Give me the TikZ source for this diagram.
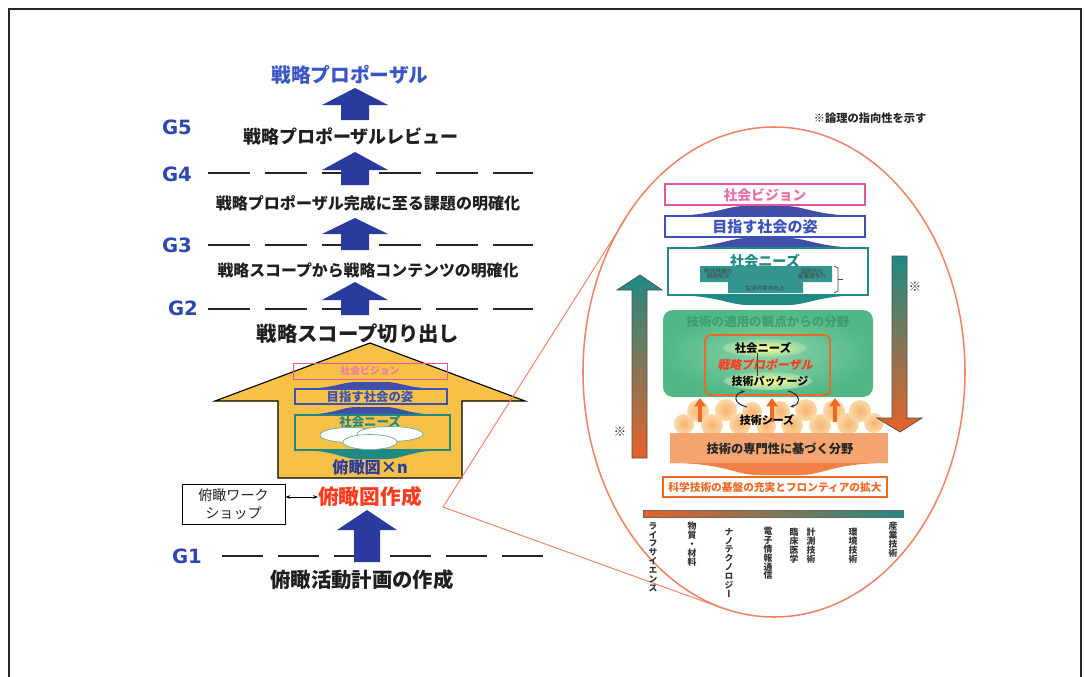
\documentclass[tikz,border=0pt]{standalone}
\usepackage{fontspec}
\setmainfont{Noto Sans CJK JP}
\newfontfamily\gfont{DejaVu Sans}
\newfontfamily\jpslant[FakeSlant=0.2]{Noto Sans CJK JP}
\newfontfamily\jpvert[RawFeature={+vert}]{Noto Sans CJK JP}
\usetikzlibrary{arrows.meta,calc,positioning}

\definecolor{navy}{HTML}{2B3A9E}
\definecolor{gblue}{HTML}{2E46B0}
\definecolor{tblue}{HTML}{3B55C8}
\definecolor{gold}{HTML}{F6C146}
\definecolor{pinkv}{HTML}{E8559A}
\definecolor{boxblue}{HTML}{3A52B8}
\definecolor{tealn}{HTML}{1F8A83}
\definecolor{redt}{HTML}{FF3A1E}
\definecolor{salmon}{HTML}{F08366}
\definecolor{greenf}{HTML}{4FB886}
\definecolor{greenl}{HTML}{8ED3A8}
\definecolor{greent}{HTML}{3F9E6E}
\definecolor{orangef}{HTML}{F4A46E}
\definecolor{orangea}{HTML}{EE6A24}
\definecolor{orangeb}{HTML}{E8622A}
\definecolor{cloudin}{HTML}{F6B46E}
\definecolor{cloudout}{HTML}{FBD9A8}

\newcommand\jsize[1]{\fontsize{#1}{#1}\selectfont}
% flat bell shape: left x, right x, base y, top y, colour
\newcommand\hump[5]{%
  \fill[#5] (#1,#3) .. controls ({#1+0.25*(#2-#1)},#3) and ({#1+0.3*(#2-#1)},#4) .. ({#1+0.4*(#2-#1)},#4)
    -- ({#1+0.6*(#2-#1)},#4) .. controls ({#1+0.7*(#2-#1)},#4) and ({#1+0.75*(#2-#1)},#3) .. (#2,#3) -- cycle;}

\begin{document}
\begin{tikzpicture}[
    x=0.025cm, y=-0.025cm,
    >=Stealth,
    every node/.style={inner sep=0pt},
    stage/.style={font=\bfseries\jsize{#1}, text=black!88},
    glabel/.style={font=\gfont\bfseries\jsize{14}, text=gblue},
    gline/.style={line width=1.8pt, black!85, dash pattern=on 1.05cm off 0.375cm},
    vlabel/.style={font=\jpvert\bfseries\jsize{6.3}, text=black!80, align=center, anchor=north},
]
\useasboundingbox (0,0) rectangle (1085,677);

% frame
\draw[line width=1.5pt, black!85] (9,677) -- (9,9) -- (1081,9) -- (1081,677);

% ---- left: stages G1..G5 ----
\foreach \g/\gx/\gy in {5/177/127, 4/177/174, 3/177/245, 2/183/308, 1/187/556}
    \node[glabel] (g\g) at (\gx,\gy) {G\g};
\foreach \gy in {173,245,309}
    \draw[gline] (208,\gy) -- (533,\gy);
\draw[gline, dash pattern=on 1.025cm off 0.375cm] (222,556) -- (543,556);

% block arrows between stages
\def\ax{355}
\foreach \tip/\hb/\bot in {88/105/120, 152/170/185, 218/234/250, 282/300/315}
    \fill[navy] (\ax-33,\hb) -- (\ax,\tip) -- (\ax+33,\hb) -- (\ax+14,\hb) -- (\ax+14,\bot)
        -- (\ax-14,\bot) -- (\ax-14,\hb) -- cycle;
\fill[navy] (337,530) -- (367,510) -- (397,530) -- (380,530) -- (380,562) -- (354,562) -- (354,530) -- cycle;

\node[stage=14, text=tblue] (prop) at (350,75) {戦略プロポーザル};
\node[stage=12.8] (review) at (351,137) {戦略プロポーザルレビュー};
\node[stage=11.4] (issue) at (368,203) {戦略プロポーザル完成に至る課題の明確化};
\node[stage=11.3] (content) at (368,270) {戦略スコープから戦略コンテンツの明確化};

% big house arrow
\draw[fill=gold, line width=0.8pt] (370,343) -- (525,401) -- (462,401) -- (462,478)
    -- (278,478) -- (278,401) -- (215,401) -- cycle;
\node[stage=14.5] (scope) at (358,334) {戦略スコープ切り出し};

\hump{297}{445}{389}{382}{navy!90}
\hump{297}{445}{415}{407}{navy!90}
\hump{297}{448}{450}{459}{tealn}
\draw[pinkv, line width=0.7pt] (293,363) rectangle (447,379);
\node[font=\bfseries\jsize{7}, text=pinkv!80] (hvis) at (370,371) {社会ビジョン};
\draw[boxblue, line width=0.9pt, fill=gold] (295,389) rectangle (447,404);
\node[font=\bfseries\jsize{8.8}, text=boxblue] (hgoal) at (370,397) {目指す社会の姿};
\draw[tealn, line width=0.9pt, fill=gold] (295,415) rectangle (450,450);
\node[font=\bfseries\jsize{8.8}, text=tealn] (hneed) at (370,422) {社会ニーズ};
\draw[tealn!70, fill=white, line width=0.5pt] (350,435) ellipse [x radius=30, y radius=7.5];
\draw[tealn!70, fill=white, line width=0.5pt] (390,434) ellipse [x radius=33, y radius=7.5];
\draw[tealn!70, fill=white, line width=0.5pt] (370,442) ellipse [x radius=27, y radius=7.5];
\node[stage=11.5, text=navy] (hmap) at (370,467) {俯瞰図×n};

% workshop and map making
\node[draw, line width=0.6pt, minimum width=2.575cm, minimum height=1cm, align=center,
    font=\jsize{10}, text=black!85] (ws) at (233.5,504) {俯瞰ワーク\\[3pt]ショップ};
\node[stage=14.7, text=redt] (make) at (370,497) {俯瞰図作成};
\draw[{Stealth[length=3.5pt]}-{Stealth[length=3.5pt]}, line width=0.6pt] (ws.east|-make) -- (make.west);
\node[stage=14.5] (plan) at (362,580) {俯瞰活動計画の作成};

% zoom lines to the detail view
\coordinate (fz) at (443,507);
\coordinate (tu) at (626,218);
\coordinate (tl) at (722,608);
\draw[salmon, line width=0.7pt] (fz) -- (tu);
\draw[salmon, line width=0.7pt] (fz) -- (tl);
\draw[salmon, line width=1.1pt] (774,372) ellipse [x radius=191, y radius=245];

% ---- right: detail of one map ----
\node[font=\bfseries\jsize{8}, text=black!85] (note) at (870,118) {※論理の指向性を示す};

\hump{665}{865}{216}{206}{navy!90}
\hump{668}{868}{248}{238}{navy!90}
\hump{668}{868}{295}{305}{tealn}
\draw[pinkv, line width=0.9pt, fill=white] (665,184) rectangle (865,205);
\node[font=\bfseries\jsize{9.8}, text=pinkv!85] (rvis) at (765,195) {社会ビジョン};
\draw[boxblue, line width=0.9pt, fill=white] (665,216) rectangle (865,237);
\node[font=\bfseries\jsize{10.7}, text=boxblue] (rgoal) at (765,227) {目指す社会の姿};
\draw[tealn, line width=1pt, fill=white] (668,248) rectangle (868,295);
\node[font=\bfseries\jsize{10}, text=tealn] (rneed) at (765,261) {社会ニーズ};
\fill[tealn!90] (700,266) -- (832,266) -- (832,282) -- (803,282) -- (803,293) -- (728,293)
    -- (728,282) -- (700,282) -- cycle;
\node[font=\jsize{4}, text=black!75, align=center] (n1) at (718,274) {地球規模の\\課題解決};
\node[font=\jsize{4}, text=black!75, align=center] (n2) at (812,274) {国際的な\\産業競争力};
\node[font=\jsize{4}, text=black!75] (n3) at (765,288) {生活の質の向上};
\draw[black!70, line width=0.5pt] (834,266) -- (838,268) -- (838,291) -- (834,293);
\draw[black!70, line width=0.5pt] (838,279) -- (843,279);

% application field box
\shade[rounded corners=2.5mm, inner color=greenl, outer color=greenf] (663,310) rectangle (873,397);
\node[font=\bfseries\jsize{8.9}, text=greent] (apply) at (768,322) {技術の適用の観点からの分野};
\shade[inner color=yellow!45!white, outer color=greenl] (765,348) ellipse [x radius=42, y radius=9];
\shade[inner color=yellow!45!white, outer color=greenl] (768,381) ellipse [x radius=44, y radius=9];
\draw[orangea, line width=1.3pt, rounded corners=1.5mm] (705,335) rectangle (830,395);
\node[font=\bfseries\jsize{8.1}] (sneed) at (763,348) {社会ニーズ};
\node[font=\bfseries\jsize{7.8}] (pack) at (770,381) {技術パッケージ};
\draw[black!80, line width=0.5pt] (757,353) -- (757,376);
\node[font=\jpslant\bfseries\jsize{8.5}, text=redt] (rprop) at (765,365) {戦略プロポーザル};

% seeds cloud
\foreach \x/\y/\r in {684/424/10, 698/411/11, 712/425/11, 726/410/11, 740/424/11, 752/412/10,
    766/426/10, 780/411/10, 792/425/11, 806/410/11, 820/425/11, 834/411/11, 848/424/11,
    860/411/11, 874/423/10}
    \shade[inner color=cloudin, outer color=cloudout] (\x,\y) circle (\r);
\foreach \x in {700,772,835}
    \draw[orangea, line width=2.6pt, -{Triangle[length=6pt,width=8pt]}] (\x,422) -- (\x,398);
\draw[black!85, line width=0.7pt, -{Stealth[length=3pt]}] (747,407) .. controls (733,404) and (733,394) .. (745,391);
\draw[black!85, line width=0.7pt, -{Stealth[length=3pt]}] (788,391) .. controls (801,394) and (801,404) .. (790,407);
\node[font=\bfseries\jsize{7.8}] (seeds) at (767,420) {技術シーズ};

% specialty field box
\hump{670}{888}{463}{475}{orangea!85}
\fill[orangef] (670,433) rectangle (888,463);
\node[font=\bfseries\jsize{8.7}, text=black!85] (spec) at (780,449) {技術の専門性に基づく分野};
\draw[orangea, line width=0.9pt, fill=white] (663,477) rectangle (887,497);
\node[font=\bfseries\jsize{7.6}, text=orangea] (base) at (775,487) {科学技術の基盤の充実とフロンティアの拡大};

% field bar and field names
\draw[black!60, line width=0.4pt, left color=orangeb, right color=tealn] (643,510) rectangle (903,517);
\foreach \x/\y/\t/\nm in {653/522/{ラ\\イ\\フ\\サ\\イ\\エ\\ン\\ス}/life,
    692/522/{物\\質\\・\\材\\料}/mat,
    729/528/{ナ\\ノ\\テ\\ク\\ノ\\ロ\\ジ\\ー}/nano,
    768/527/{電\\子\\情\\報\\通\\信}/ict,
    794/528/{臨\\床\\医\\学}/clin,
    811/528/{計\\測\\技\\術}/meas,
    853/528/{環\\境\\技\\術}/env,
    893/522/{産\\業\\技\\術}/ind}
    \node[vlabel] (f\nm) at (\x,\y) {\t};

% logic direction arrows
\draw[black!70, line width=0.5pt, top color=tealn, bottom color=orangeb] (617,290) -- (640,275) -- (662,290)
    -- (647,290) -- (647,458) -- (632,458) -- (632,290) -- cycle;
\draw[black!70, line width=0.5pt, top color=tealn, bottom color=orangeb] (892,256) -- (907,256) -- (907,418)
    -- (922,418) -- (900,432) -- (877,418) -- (892,418) -- cycle;
\node[font=\bfseries\jsize{9}, text=black!80] (nl) at (620,432) {※};
\node[font=\bfseries\jsize{9}, text=black!80] (nr) at (915,287) {※};
\end{tikzpicture}
\end{document}
